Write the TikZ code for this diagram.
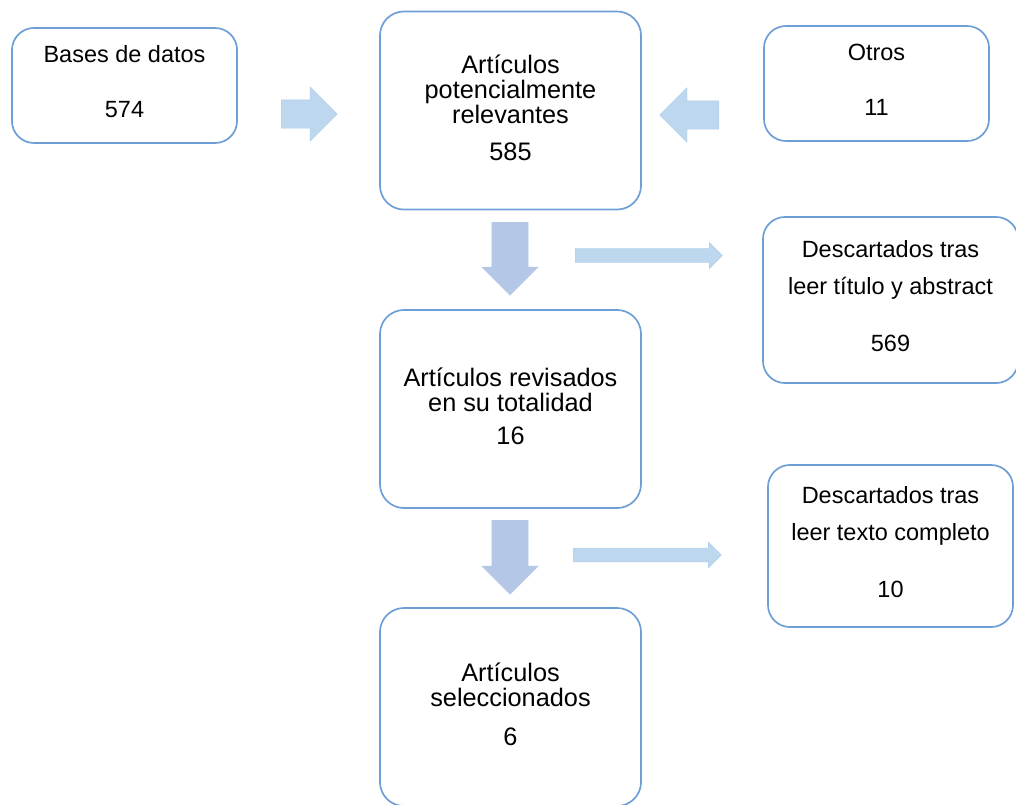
\documentclass[tikz,border=0pt]{standalone}
\usepackage{fontspec}
\setmainfont{Liberation Sans}
\usepackage{xcolor}
\usepackage{tikz}
\usetikzlibrary{shapes.arrows, positioning, calc}

\definecolor{boxline}{HTML}{6E9ED6}
\definecolor{arrowfill}{HTML}{BDD7EE}
\definecolor{downfill}{HTML}{B4C7E7}
\definecolor{arrowline}{HTML}{AECDEA}

\begin{document}
\begin{tikzpicture}[x=0.025cm, y=-0.025cm,
    bigbox/.style={draw=boxline, line width=1.2pt, rounded corners=0.6cm, minimum width=6.525cm, minimum height=4.95cm, align=center, text depth=4pt, font=\fontsize{18}{17.8}\selectfont},
    sidebox/.style={draw=boxline, line width=1.2pt, rounded corners=0.55cm, align=center, text depth=5.7pt, font=\fontsize{16.7}{26.3}\selectfont},
    fatarrow/.style={single arrow, fill=arrowfill, draw=arrowline, line width=0.3pt, inner xsep=0pt, inner ysep=0.35cm, single arrow head extend=0.325cm, anchor=tail},
    downarrow/.style={fatarrow, fill=downfill, draw=downfill, inner ysep=0.45cm, single arrow head extend=0.25cm},
    thinarrow/.style={fatarrow, inner ysep=0.17cm, single arrow head extend=0.15cm}
  ]
  \useasboundingbox (0,0) rectangle (1016,804);

  % --- SOURCES ---
  \node[sidebox, minimum width=5.625cm, minimum height=2.875cm] (bases) at (124.5,85.5) {Bases de datos\\[12.5pt]574};
  \node[sidebox, minimum width=5.625cm, minimum height=2.875cm] (otros) at (876.5,83.5) {Otros\\[13pt]11};

  % --- MAIN COLUMN ---
  \node[bigbox] (relev) at (510.5,110.5) {Artículos\\potencialmente\\relevantes\\[8.5pt]585};
  \node[bigbox] (revis) at (510.5,409) {Artículos revisados\\en su totalidad\\[6pt]16};
  \node[bigbox] (selec) at (510.5,707) {Artículos\\seleccionados\\[9.5pt]6};

  % --- DISCARDED ---
  \node[sidebox, minimum width=6.375cm, minimum height=4.15cm] (desc1) at (890.5,300) {Descartados tras\\leer título y abstract\\[14pt]569};
  \node[sidebox, minimum width=6.125cm, minimum height=4.05cm] (desc2) at (890.5,546) {Descartados tras\\leer texto completo\\[14pt]10};

  % --- BLOCK ARROWS ---
  \node[fatarrow, minimum height=1.4cm] (inL) at (281,114) {};
  \node[fatarrow, minimum height=1.475cm, rotate=180] (inR) at (719,115) {};
  \node[downarrow, minimum height=1.825cm, rotate=-90] (down1) at (510,222) {};
  \node[downarrow, minimum height=1.85cm, rotate=-90] (down2) at (510,520) {};
  \node[thinarrow, minimum height=3.675cm] (out1) at (575,255.5) {};
  \node[thinarrow, minimum height=3.7cm] (out2) at (573,555) {};
\end{tikzpicture}
\end{document}
